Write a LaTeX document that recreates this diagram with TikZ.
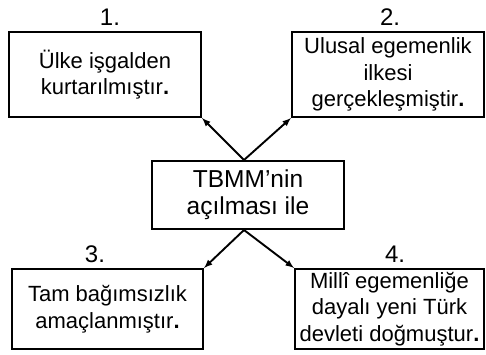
\documentclass[tikz,border=0pt]{standalone}
\usepackage{fontspec}
\setmainfont{Liberation Sans}
\usepackage{tikz}

\begin{document}
\begin{tikzpicture}[x=1pt,y=-1pt,
	box/.style={draw, line width=2pt, align=center, inner sep=0pt,
		font=\fontsize{22}{26.5}\selectfont},
	num/.style={font=\fontsize{24}{28}\selectfont},
	arr/.style={-latex, line width=1.9pt}]
	\useasboundingbox (0,0) rectangle (486,355);
	
	\node[box, minimum width=192pt, minimum height=85pt] (kurtulus) at (105,74.5) {Ülke işgalden\\kurtarılmıştır\textbf{.}};
	\node[box, minimum width=192pt, minimum height=85pt] (egemenlik) at (388,74.5) {Ulusal egemenlik\\ilkesi\\gerçekleşmiştir\textbf{.}};
	\node[box, minimum width=192pt, minimum height=68pt, font=\fontsize{24.5}{27}\selectfont] (tbmm) at (248,195) {TBMM’nin\\açılması ile};
	\node[box, minimum width=191pt, minimum height=80pt] (bagimsizlik) at (107.5,309) {Tam bağımsızlık\\amaçlanmıştır\textbf{.}};
	\node[box, minimum width=189pt, minimum height=80pt] (devlet) at (389.5,309) {Millî egemenliğe\\dayalı yeni Türk\\devleti doğmuştur\textbf{.}};
	
	\node[num] (n1) at (110,17) {1.};
	\node[num] (n2) at (390,17) {2.};
	\node[num] (n3) at (95,254) {3.};
	\node[num] (n4) at (395,254) {4.};
	
	\draw[arr] ([xshift=-4pt]tbmm.north) -- (kurtulus.south east);
	\draw[arr] ([xshift=-4pt]tbmm.north) -- (egemenlik.south west);
	\draw[arr] ([xshift=-4pt]tbmm.south) -- (bagimsizlik.north east);
	\draw[arr] ([xshift=-4pt]tbmm.south) -- (devlet.north west);
\end{tikzpicture}
\end{document}
